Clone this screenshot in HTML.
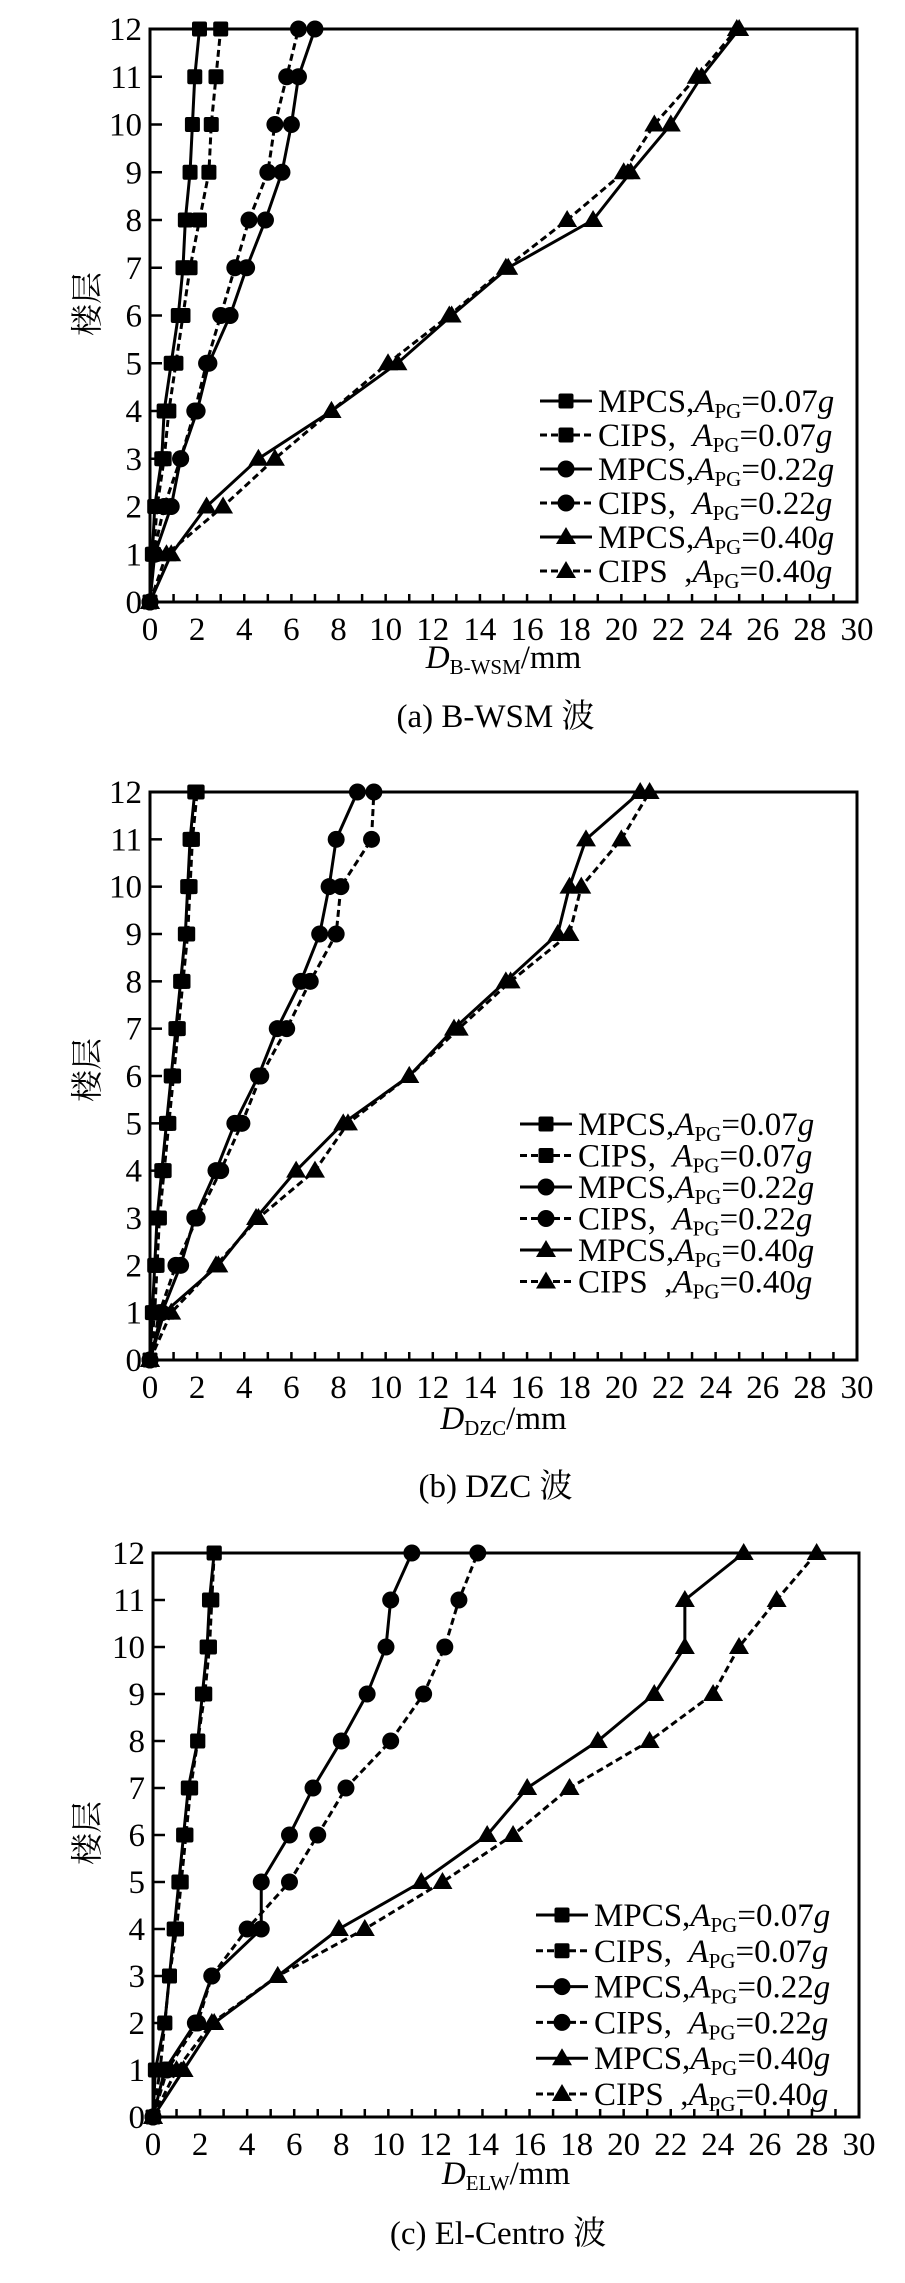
<!DOCTYPE html>
<html><head><meta charset="utf-8">
<style>
html,body{margin:0;padding:0;background:#fff;}
svg{display:block;}
text{font-family:"Liberation Serif","Noto Serif CJK SC",serif;fill:#000;}
</style></head>
<body>
<svg id="s" width="905" height="2283" xmlns="http://www.w3.org/2000/svg"></svg>
<script>
const S=document.getElementById('s');
let h='';
const plots=[
 {x0:150,x1:857,y12:29,y0:602,lab:'B-WSM',cap:'(a) B-WSM 波',capY:727,xlY:668,ylY:304,
  leg:{lx:540,ly:401,dy:34},
  d:[[0,0.1,0.2,0.5,0.6,0.9,1.2,1.4,1.5,1.7,1.8,1.9,2.1],
     [0,0.15,0.3,0.6,0.8,1.1,1.4,1.7,2.1,2.5,2.6,2.8,3.0],
     [0,0.2,0.9,1.3,2.0,2.5,3.4,4.1,4.9,5.6,6.0,6.3,7.0],
     [0,0.15,0.6,1.3,1.9,2.4,3.0,3.6,4.2,5.0,5.3,5.8,6.3],
     [0,0.9,2.4,4.6,7.7,10.5,12.8,15.2,18.8,20.4,22.1,23.4,25.0],
     [0,0.7,3.1,5.3,7.7,10.1,12.7,15.1,17.7,20.1,21.4,23.2,24.9]]},
 {x0:150,x1:857,y12:792,y0:1360,lab:'DZC',cap:'(b) DZC 波',capY:1497,xlY:1429,ylY:1070,
  leg:{lx:520,ly:1124,dy:31.5},
  d:[[0,0.1,0.2,0.3,0.5,0.7,0.9,1.1,1.3,1.5,1.6,1.7,1.9],
     [0,0.2,0.3,0.4,0.6,0.8,1.0,1.2,1.4,1.6,1.7,1.8,2.0],
     [0,0.5,1.3,1.9,2.8,3.6,4.6,5.4,6.4,7.2,7.6,7.9,8.8],
     [0,0.4,1.1,2.0,3.0,3.9,4.7,5.8,6.8,7.9,8.1,9.4,9.5],
     [0,0.6,2.9,4.5,6.2,8.2,11.0,12.9,15.1,17.3,17.8,18.5,20.8],
     [0,0.9,2.8,4.6,7.0,8.4,11.0,13.1,15.3,17.8,18.3,20.0,21.2]]},
 {x0:153,x1:859,y12:1553,y0:2117,lab:'ELW',cap:'(c) El-Centro 波',capY:2244,xlY:2184,ylY:1833,
  leg:{lx:536,ly:1915,dy:35.8},
  d:[[0,0.1,0.5,0.7,0.9,1.1,1.3,1.5,1.9,2.1,2.3,2.4,2.6],
     [0,0.3,0.5,0.7,1.0,1.2,1.4,1.6,1.9,2.2,2.4,2.5,2.6],
     [0,0.5,1.8,2.5,4.6,4.6,5.8,6.8,8.0,9.1,9.9,10.1,11.0],
     [0,0.6,1.9,2.5,4.0,5.8,7.0,8.2,10.1,11.5,12.4,13.0,13.8],
     [0,1.3,2.6,5.3,7.9,11.4,14.2,15.9,18.9,21.3,22.6,22.6,25.1],
     [0,1.0,2.5,5.3,9.0,12.3,15.3,17.7,21.1,23.8,24.9,26.5,28.2]]}
];
const names=[['MPCS,','0.07'],['CIPS,  ','0.07'],['MPCS,','0.22'],['CIPS,  ','0.22'],['MPCS,','0.40'],['CIPS  ,','0.40']];
function marker(k,x,y){
  if(k<2)return `<rect x="${x-7.5}" y="${y-7.5}" width="15" height="15" rx="2"/>`;
  if(k<4)return `<circle cx="${x}" cy="${y}" r="8.5"/>`;
  return `<polygon points="${x},${y-10} ${x+10},${y+7} ${x-10},${y+7}"/>`;
}
for(const p of plots){
  const sx=v=>p.x0+(p.x1-p.x0)*v/30, sy=f=>p.y0-(p.y0-p.y12)*f/12;
  for(let i=0;i<=30;i++){const x=sx(i);h+=`<line x1="${x}" y1="${p.y0}" x2="${x}" y2="${p.y0-8}" stroke="#000" stroke-width="2.5"/>`;}
  for(let i=0;i<=12;i++){const y=sy(i);h+=`<line x1="${p.x0}" y1="${y}" x2="${p.x0+12}" y2="${y}" stroke="#000" stroke-width="2.5"/>`;
    h+=`<text x="${p.x0-8}" y="${y+11}" font-size="33" text-anchor="end">${i}</text>`;}
  for(let i=0;i<=30;i+=2){h+=`<text x="${sx(i)}" y="${p.y0+38}" font-size="33" text-anchor="middle">${i}</text>`;}
  h+=`<rect x="${p.x0}" y="${p.y12}" width="${p.x1-p.x0}" height="${p.y0-p.y12}" fill="none" stroke="#000" stroke-width="3"/>`;
  p.d.forEach((arr,k)=>{
    const pts=arr.map((v,i)=>`${sx(v)},${sy(i)}`).join(' ');
    h+=`<polyline points="${pts}" fill="none" stroke="#000" stroke-width="3" ${k%2?'stroke-dasharray="7,4"':''}/>`;
    arr.forEach((v,i)=>{h+=marker(k,sx(v),sy(i));});
  });
  names.forEach((n,k)=>{
    const y=p.leg.ly+k*p.leg.dy, x=p.leg.lx;
    h+=`<line x1="${x}" y1="${y}" x2="${x+52}" y2="${y}" stroke="#000" stroke-width="3" ${k%2?'stroke-dasharray="7,4"':''}/>`;
    h+=marker(k,x+26,y);
    h+=`<text x="${x+58}" y="${y+11}" font-size="33" xml:space="preserve">${n[0]}<tspan font-style="italic">A</tspan><tspan font-size="21" dy="6">PG</tspan><tspan dy="-6">=${n[1]}</tspan><tspan font-style="italic">g</tspan></text>`;
  });
  h+=`<text x="${(p.x0+p.x1)/2}" y="${p.xlY}" font-size="33" text-anchor="middle"><tspan font-style="italic">D</tspan><tspan font-size="21" dy="6">${p.lab}</tspan><tspan dy="-6">/mm</tspan></text>`;
  h+=`<text transform="translate(98,${p.ylY}) rotate(-90)" font-size="32" text-anchor="middle">楼层</text>`;
  h+=`<text x="${(p.x0+p.x1)/2-8}" y="${p.capY}" font-size="33" text-anchor="middle">${p.cap}</text>`;
}
S.innerHTML=h;
</script>
</body></html>
